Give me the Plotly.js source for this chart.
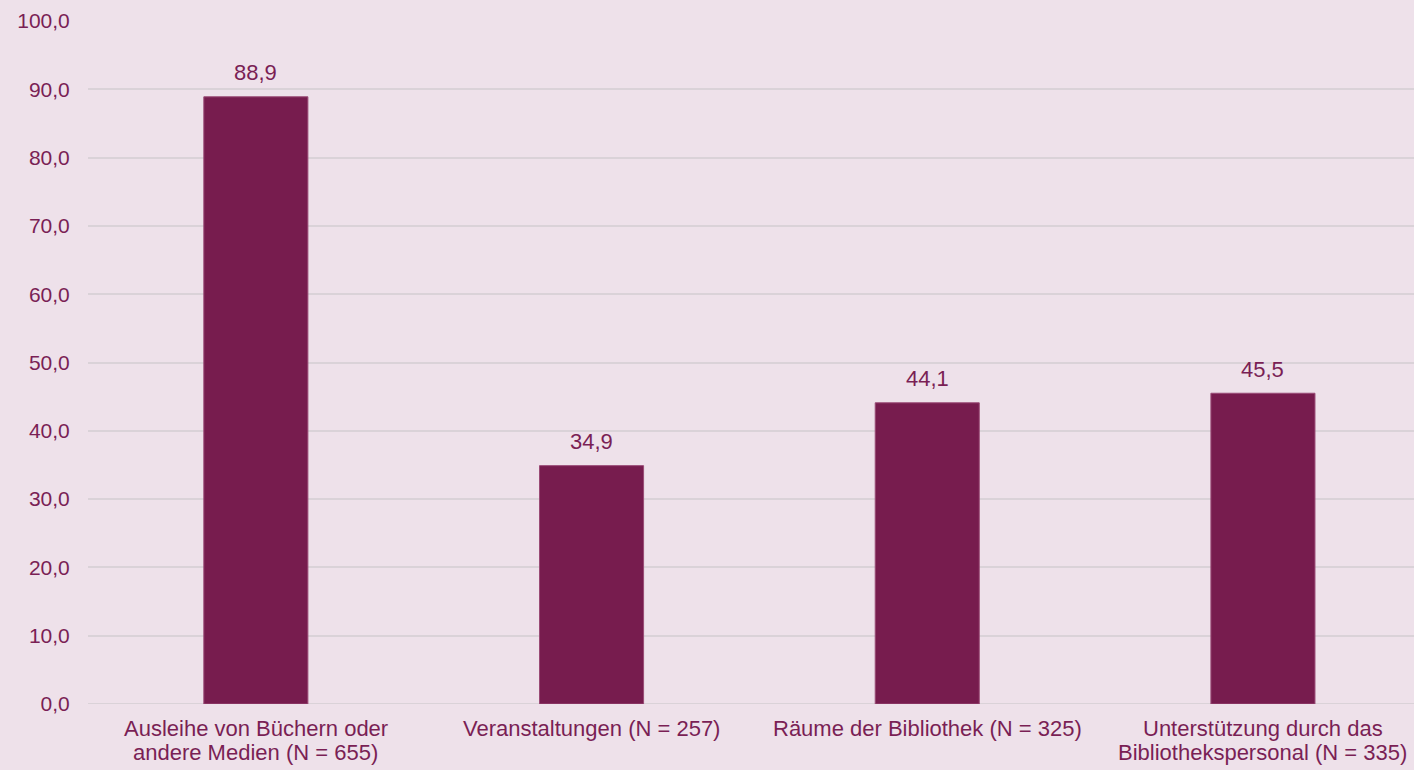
<!DOCTYPE html>
<html>
<head>
<meta charset="utf-8">
<script src="https://cdn.plot.ly/plotly-3.0.1.min.js"></script>
<style>html,body{margin:0;padding:0;background:#EEE1EA;}#chart{width:1414px;height:770px;}</style>
</head>
<body>
<div id="chart"></div>
<script>
const categories = [
  "Ausleihe von Büchern oder<br>andere Medien (N = 655)",
  "Veranstaltungen (N = 257)",
  "Räume der Bibliothek (N = 325)",
  "Unterstützung durch das<br>Bibliothekspersonal (N = 335)"
];
const values = [88.9, 34.9, 44.1, 45.5];
const yTicks = [0, 10, 20, 30, 40, 50, 60, 70, 80, 90, 100];

const textColor = "#7A1F55";
const barColor = "#771C4E";
const fontFam = "Liberation Sans, Arial, sans-serif";

const fmt = v => v.toFixed(1).replace(".", ",");

const trace = {
  type: "bar",
  x: categories,
  y: values,
  width: 0.31,
  marker: {color: barColor, line: {color: "#9A4B76", width: 1}},
  hoverinfo: "skip"
};

const annotations = categories.map((c, i) => ({
  x: c, y: values[i], xref: "x", yref: "y",
  text: fmt(values[i]), showarrow: false,
  yanchor: "middle", yshift: 24,
  font: {family: fontFam, size: 22, color: textColor}
}));

// category labels, one annotation per line for tighter line spacing
categories.forEach(c => {
  c.split("<br>").forEach((line, j) => {
    annotations.push({
      x: c, y: 0, xref: "x", yref: "y",
      text: line, showarrow: false,
      yanchor: "middle", yshift: -24 - 24 * j,
      font: {family: fontFam, size: 22, color: textColor}
    });
  });
});

const layout = {
  width: 1414, height: 770,
  paper_bgcolor: "#EEE1EA", plot_bgcolor: "#EEE1EA",
  margin: {l: 88, r: 0, t: 21, b: 66},
  showlegend: false,
  separators: ",.",
  font: {family: fontFam, size: 21, color: textColor},
  xaxis: {
    type: "category",
    range: [-0.5, 3.45],
    showgrid: false, zeroline: false, showline: false,
    showticklabels: false, ticks: ""
  },
  yaxis: {
    range: [0, 100],
    tickvals: yTicks,
    ticktext: yTicks.map(fmt),
    showgrid: true, gridcolor: "#DAD2D8", gridwidth: 2,
    zeroline: false, showline: false,
    ticks: "outside", ticklen: 13, tickcolor: "rgba(0,0,0,0)",
    tickfont: {family: fontFam, size: 21, color: textColor}
  },
  shapes: [{type: "line", xref: "paper", yref: "y", x0: 0, x1: 1, y0: 0, y1: 0,
            line: {color: "#DAD2D8", width: 2}, layer: "below"}],
  annotations: annotations
};

Plotly.newPlot("chart", [trace], layout, {displayModeBar: false, staticPlot: true});
</script>
</body>
</html>
